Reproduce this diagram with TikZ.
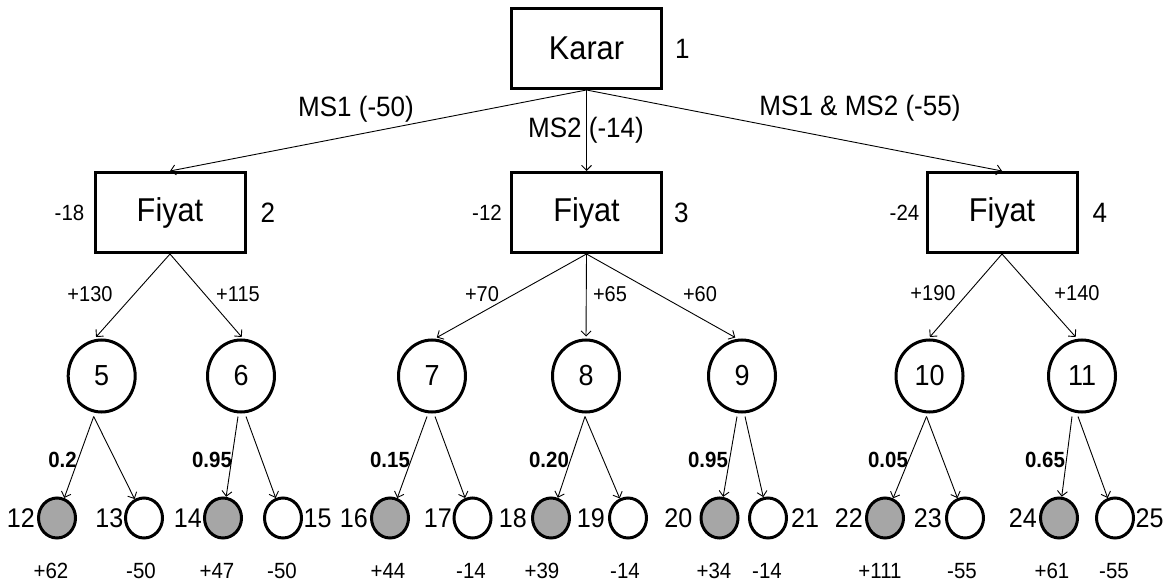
\documentclass[tikz,border=0pt]{standalone}
\usepackage{fontspec}
\setmainfont[FakeStretch=0.93]{Liberation Sans}
\usetikzlibrary{arrows.meta,shapes.geometric,positioning}
\definecolor{leafgray}{RGB}{166,166,166}
\newcommand\tsz[1]{\fontsize{#1}{#1}\selectfont}
\begin{document}
\begin{tikzpicture}[x=1pt,y=-1pt,
  box/.style={draw,line width=3pt,minimum width=150pt,minimum height=80pt,inner sep=0pt,font=\tsz{33}},
  chance/.style={draw,ellipse,line width=3pt,minimum width=67pt,minimum height=72pt,inner sep=0pt,font=\tsz{29}},
  leaf/.style={draw,ellipse,line width=3pt,minimum width=37pt,minimum height=40pt,inner sep=0pt},
  hit/.style={leaf,fill=leafgray},
  miss/.style={leaf,fill=white},
  edge/.style={line width=0.9pt,-{Straight Barb[length=5pt,width=10pt]}},
  txt/.style={inner sep=0pt},
  idlbl/.style={txt,font=\tsz{28}},
  leaflbl/.style={txt,font=\tsz{27}},
  cost/.style={txt,font=\tsz{22}},
  act/.style={txt,font=\tsz{28}},
  pay/.style={txt,font=\tsz{21.5}},
  prob/.style={txt,font=\bfseries\tsz{22}},
  val/.style={txt,font=\tsz{22}}
]
\useasboundingbox (0,0) rectangle (1172,585);

% decision and price nodes
\node[box] (karar) at (586.5,48.5) {Karar};
\node[box] (f2) at (170,212.5) {Fiyat};
\node[box] (f3) at (586.5,212.5) {Fiyat};
\node[box] (f4) at (1002,212.5) {Fiyat};

\node[idlbl,right=12pt of karar] (n1) {1};
\node[idlbl,right=14pt of f2] (n2) {2};
\node[idlbl,right=11pt of f3] (n3) {3};
\node[idlbl,right=14pt of f4] (n4) {4};
\node[cost,left=9pt of f2] (k2) {-18};
\node[cost,left=8pt of f3] (k3) {-12};
\node[cost,left=6pt of f4] (k4) {-24};

% chance nodes
\node[chance] (c5) at (101.7,376) {5};
\node[chance] (c6) at (241,376) {6};
\node[chance] (c7) at (432,376) {7};
\node[chance] (c8) at (586,376) {8};
\node[chance] (c9) at (742,376) {9};
\node[chance] (c10) at (929.5,376) {10};
\node[chance] (c11) at (1082,376) {11};

% outcome nodes
\node[hit]  (l12) at (57,518) {};
\node[miss] (l13) at (144,518) {};
\node[hit]  (l14) at (223,518) {};
\node[miss] (l15) at (283,518) {};
\node[hit]  (l16) at (390,518) {};
\node[miss] (l17) at (472.5,518) {};
\node[hit]  (l18) at (551,518) {};
\node[miss] (l19) at (628,518) {};
\node[hit]  (l20) at (719.5,518) {};
\node[miss] (l21) at (768,518) {};
\node[hit]  (l22) at (885,518) {};
\node[miss] (l23) at (965,518) {};
\node[hit]  (l24) at (1059,518) {};
\node[miss] (l25) at (1115,518) {};

\node[leaflbl,left=2pt of l12] (t12) {12};
\node[leaflbl,left=0.5pt of l13] (t13) {13};
\node[leaflbl,left=1pt of l14] (t14) {14};
\node[leaflbl,right=0.5pt of l15] (t15) {15};
\node[leaflbl,left=2pt of l16] (t16) {16};
\node[leaflbl,left=0.5pt of l17] (t17) {17};
\node[leaflbl,left=4pt of l18] (t18) {18};
\node[leaflbl,left=3pt of l19] (t19) {19};
\node[leaflbl,left=7pt of l20] (t20) {20};
\node[leaflbl,right=3pt of l21] (t21) {21};
\node[leaflbl,left=2pt of l22] (t22) {22};
\node[leaflbl,left=3pt of l23] (t23) {23};
\node[leaflbl,left=2pt of l24] (t24) {24};
\node[leaflbl,right=0.5pt of l25] (t25) {25};

% alternatives
\draw[edge] (karar.south) -- (f2.north);
\draw[edge] (karar.south) -- (f3.north);
\draw[edge] (karar.south) -- (f4.north);
\node[act] (a1) at (356,109) {MS1 (-50)};
\node[act] (a2) at (586,130) {MS2 (-14)};
\node[act] (a3) at (860,108) {MS1 \& MS2 (-55)};

% price branches
\draw[edge,shorten >=2pt] (f2.south) -- ([xshift=-7pt]c5.north);
\draw[edge,shorten >=2pt] (f2.south) -- ([xshift=2pt]c6.north);
\draw[edge,shorten >=2pt] (f3.south) -- ([xshift=3pt]c7.north);
\draw[edge,shorten >=2pt] (f3.south) -- (c8.north);
\draw[edge,shorten >=2pt] (f3.south) -- ([xshift=-5pt]c9.north);
\draw[edge,shorten >=2pt] (f4.south) -- ([xshift=-1pt]c10.north);
\draw[edge,shorten >=2pt] (f4.south) -- ([xshift=-5pt]c11.north);
\node[pay] (p5) at (90,294) {+130};
\node[pay] (p6) at (238,294) {+115};
\node[pay] (p7) at (482,294) {+70};
\node[pay] (p8) at (610,294) {+65};
\node[pay] (p9) at (700,294) {+60};
\node[pay] (p10) at (933,293) {+190};
\node[pay] (p11) at (1077,293) {+140};

% outcome branches
\draw[edge] ([xshift=-8pt,yshift=-3pt]c5.south) -- (l12);
\draw[edge] ([xshift=-8pt,yshift=-3pt]c5.south) -- (l13);
\draw[edge] ([xshift=-3pt,yshift=-3pt]c6.south) -- (l14);
\draw[edge] ([xshift=5pt,yshift=-3pt]c6.south) -- (l15);
\draw[edge] ([xshift=-5pt,yshift=-3pt]c7.south) -- (l16);
\draw[edge] ([xshift=3pt,yshift=-3pt]c7.south) -- (l17);
\draw[edge] ([xshift=-1pt,yshift=-3pt]c8.south) -- (l18);
\draw[edge] ([xshift=-1pt,yshift=-3pt]c8.south) -- (l19);
\draw[edge] ([xshift=-5pt,yshift=-3pt]c9.south) -- (l20);
\draw[edge] ([xshift=3pt,yshift=-3pt]c9.south) -- (l21);
\draw[edge] ([xshift=-3pt,yshift=-3pt]c10.south) -- (l22);
\draw[edge] ([xshift=-3pt,yshift=-3pt]c10.south) -- (l23);
\draw[edge] ([xshift=-10pt,yshift=-3pt]c11.south) -- (l24);
\draw[edge] ([xshift=-4pt,yshift=-3pt]c11.south) -- (l25);

\node[prob] (q5) at (62.5,460) {0.2};
\node[prob] (q6) at (212,460) {0.95};
\node[prob] (q7) at (390,460) {0.15};
\node[prob] (q8) at (549,460) {0.20};
\node[prob] (q9) at (708,460) {0.95};
\node[prob] (q10) at (888,460) {0.05};
\node[prob] (q11) at (1045,460) {0.65};

% outcome values
\node[val] (v12) at (51,571) {+62};
\node[val] (v13) at (141,571) {-50};
\node[val] (v14) at (217,571) {+47};
\node[val] (v15) at (282,571) {-50};
\node[val] (v16) at (388,571) {+44};
\node[val] (v17) at (471,571) {-14};
\node[val] (v18) at (542,571) {+39};
\node[val] (v19) at (625,571) {-14};
\node[val] (v20) at (714,571) {+34};
\node[val] (v21) at (767,571) {-14};
\node[val] (v22) at (880,571) {+111};
\node[val] (v23) at (962,571) {-55};
\node[val] (v24) at (1052,571) {+61};
\node[val] (v25) at (1114,571) {-55};
\end{tikzpicture}
\end{document}
